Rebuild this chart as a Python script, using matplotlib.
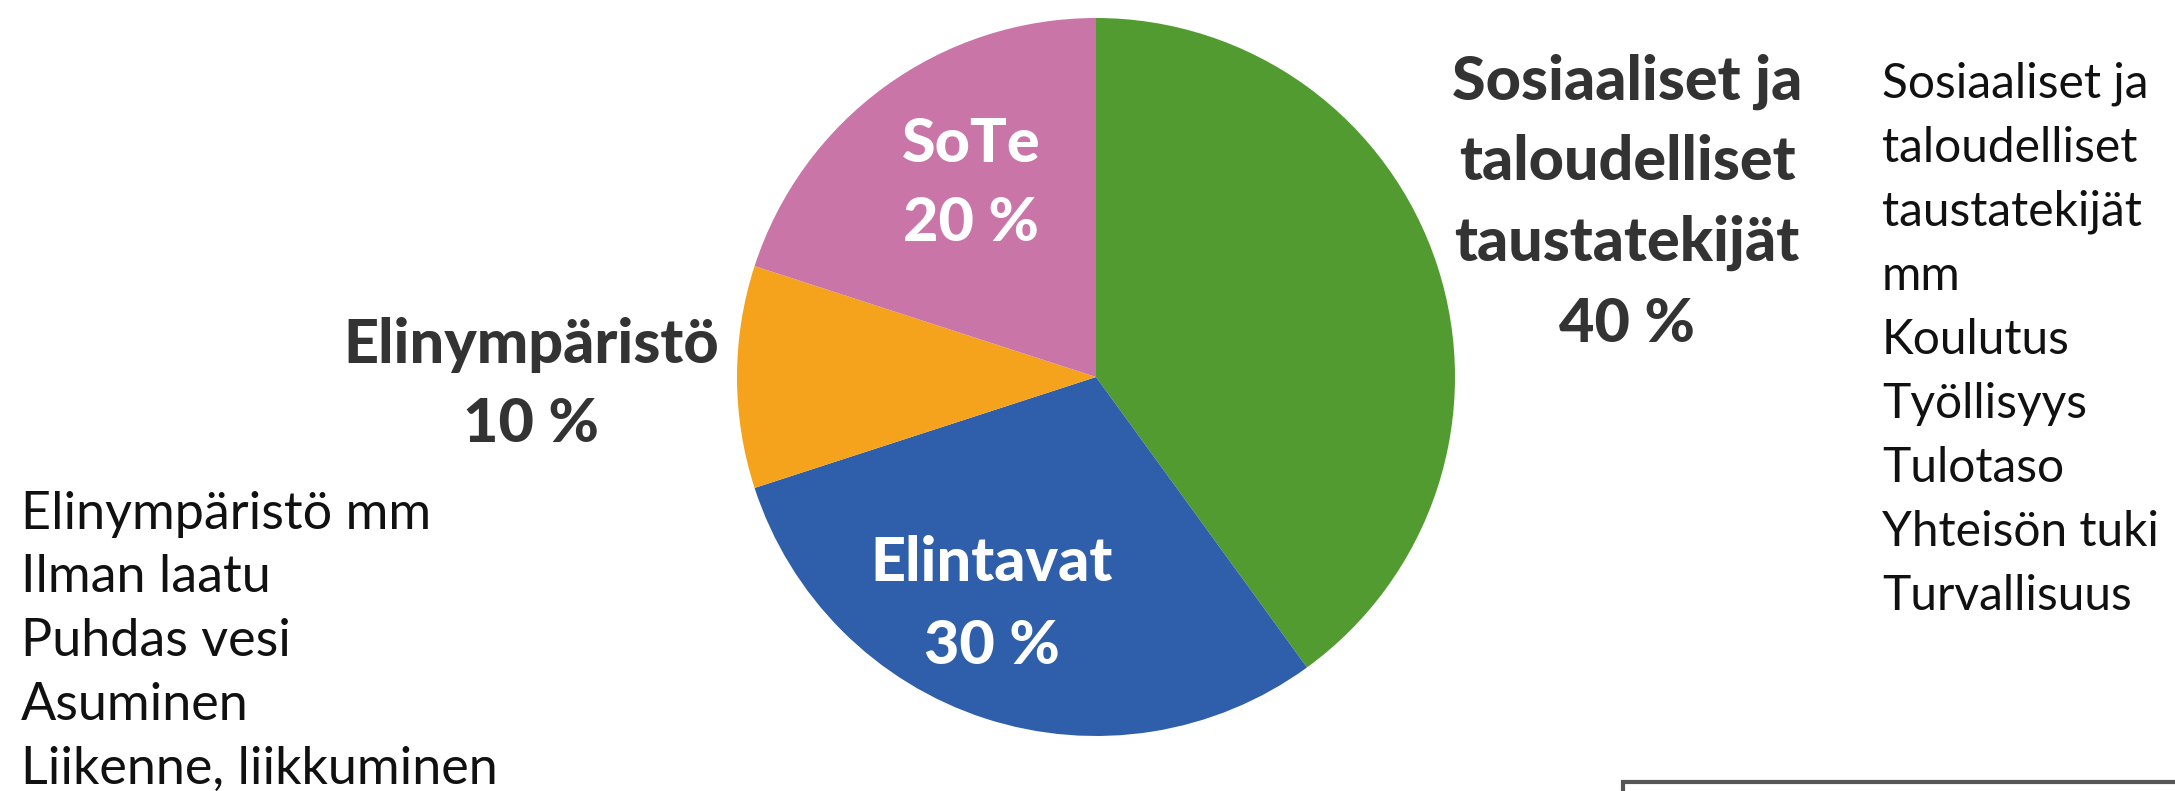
import matplotlib
matplotlib.use("Agg")
import matplotlib.pyplot as plt
from matplotlib.patches import Rectangle

# Data
categories = ["Sosiaaliset ja\ntaloudelliset\ntaustatekijät", "Elintavat", "Elinympäristö", "SoTe"]
shares = [40, 30, 10, 20]
colors = ["#529B30", "#2F5FAA", "#F5A31D", "#C975A8"]
right_notes = ["Sosiaaliset ja", "taloudelliset", "taustatekijät", "mm", "Koulutus",
               "Työllisyys", "Tulotaso", "Yhteisön tuki", "Turvallisuus"]
left_notes = ["Elinympäristö mm", "Ilman laatu", "Puhdas vesi", "Asuminen", "Liikenne, liikkuminen"]

W, H = 2175, 791
fig = plt.figure(figsize=(W / 100, H / 100), dpi=100)
fig.patch.set_facecolor("white")

FONT = "Lato"

def fx(x):
    return x / W

def fy(y):
    return 1 - y / H

cx, cy, r = 1096, 377, 359
ax = fig.add_axes([fx(cx - r), (H - cy - r) / H, 2 * r / W, 2 * r / H])
ax.pie(shares, colors=colors, startangle=90, counterclock=False,
       wedgeprops=dict(linewidth=0))
ax.set_xlim(-1, 1)
ax.set_ylim(-1, 1)
ax.set_aspect("equal")
ax.axis("off")

dark = "#333333"
bold_kw = dict(family=FONT, fontweight="black", fontsize=44, ha="center", va="center")

# Green label (outside, right)
for i, line in enumerate(categories[0].split("\n") + [f"{shares[0]} %"]):
    fig.text(fx(1627), fy(82 + i * 80.5), line, color=dark, **bold_kw)

# Elinympäristö label (outside, left)
fig.text(fx(531), fy(345), categories[2], color=dark, **bold_kw)
fig.text(fx(531), fy(424), f"{shares[2]} %", color=dark, **bold_kw)

# Inside labels
fig.text(fx(971), fy(144), categories[3], color="white", **bold_kw)
fig.text(fx(971), fy(223), f"{shares[3]} %", color="white", **bold_kw)
fig.text(fx(992), fy(563), categories[1], color="white", **bold_kw)
fig.text(fx(992), fy(646), f"{shares[1]} %", color="white", **bold_kw)

# Notes
note_kw = dict(family=FONT, color="#111111", ha="left", va="center")
for i, line in enumerate(right_notes):
    fig.text(fx(1882), fy(84 + i * 64), line, fontsize=34.5, **note_kw)
for i, line in enumerate(left_notes):
    fig.text(fx(21), fy(514 + i * 63.8), line, fontsize=37.5, **note_kw)

# Partial box at bottom right
fig.patches.append(Rectangle((fx(1623), fy(900)), fx(700), (900 - 782) / H,
                             transform=fig.transFigure, fill=False,
                             edgecolor="#555555", linewidth=3, clip_on=True))

fig.savefig("out.png", dpi=100, facecolor="white")
